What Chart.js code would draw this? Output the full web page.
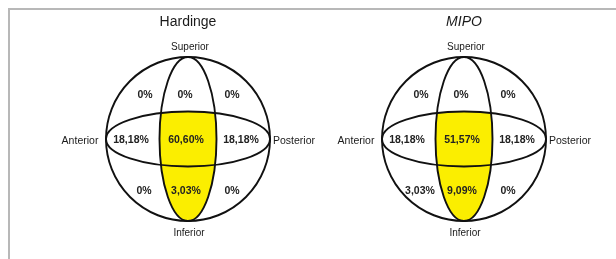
<!DOCTYPE html>
<html>
<head>
<meta charset="utf-8">
<script src="https://cdn.jsdelivr.net/npm/chart.js@4"></script>
<style>
  body { margin: 0; background: #fff; }
  canvas { display: block; }
</style>
</head>
<body>
<canvas id="sphereChart" width="616" height="259"></canvas>
<script>
// Data: share of fractures per sphere region (row-major, superior -> inferior)
const panels = ['Hardinge', 'MIPO'];
const hardingeValues = [0, 0, 0, 18.18, 60.60, 18.18, 0, 3.03, 0];
const mipoValues = [0, 0, 0, 18.18, 51.57, 18.18, 3.03, 9.09, 0];
const directions = ['Superior', 'Inferior', 'Anterior', 'Posterior'];

const fmtPct = v => v === 0 ? '0%' : v.toFixed(2).replace('.', ',') + '%';

// layout (in scale units, 1 unit = 1px)
const centersX = [188, 464];
const centerY = 139;
const R = 82;
const bandRy = 27.5;   // equator ellipse half height
const bandRx = 28.5;   // meridian ellipse half width
const colOff = [[-43, -3, 44], [-57, -2, 53], [-44, -2, 44]];
const rowOff = [-44, 1, 52];

const spherePlugin = {
    id: 'spheres',
    afterDraw(chart) {
        const ctx = chart.ctx;
        const xs = chart.scales.x, ys = chart.scales.y;
        const px = v => xs.getPixelForValue(v);
        const py = v => ys.getPixelForValue(v);
        const k = Math.abs(px(1) - px(0));

        // frame
        ctx.save();
        ctx.strokeStyle = '#b8b8b8';
        ctx.lineWidth = 2;
        ctx.beginPath();
        ctx.moveTo(px(9), py(259));
        ctx.lineTo(px(9), py(9));
        ctx.lineTo(px(616), py(9));
        ctx.stroke();
        ctx.restore();

        const allValues = [hardingeValues, mipoValues];
        panels.forEach((name, p) => {
            const cx = px(centersX[p]), cy = py(centerY);
            const r = R * k, ery = bandRy * k, mrx = bandRx * k;

            // yellow: meridian below top of equator band
            ctx.save();
            ctx.beginPath();
            ctx.ellipse(cx, cy, mrx, r, 0, 0, Math.PI * 2);
            ctx.clip();
            ctx.beginPath();
            ctx.ellipse(cx, cy, r, ery, 0, Math.PI, Math.PI * 2);
            ctx.lineTo(cx + r, cy + r + 4);
            ctx.lineTo(cx - r, cy + r + 4);
            ctx.closePath();
            ctx.fillStyle = '#fbee00';
            ctx.fill();
            ctx.restore();

            // outlines
            ctx.save();
            ctx.strokeStyle = '#111';
            ctx.lineWidth = 1.9;
            ctx.beginPath();
            ctx.arc(cx, cy, r, 0, Math.PI * 2);
            ctx.stroke();
            ctx.beginPath();
            ctx.ellipse(cx, cy, r, ery, 0, 0, Math.PI * 2);
            ctx.stroke();
            ctx.beginPath();
            ctx.ellipse(cx, cy, mrx, r, 0, 0, Math.PI * 2);
            ctx.stroke();
            ctx.restore();

            // texts
            ctx.save();
            ctx.textAlign = 'center';
            ctx.textBaseline = 'middle';
            ctx.fillStyle = '#1a1a1a';
            ctx.font = (p === 1 ? 'italic ' : '') + '14px "Liberation Sans", Arial, sans-serif';
            ctx.fillText(name, px(centersX[p]), py(22));

            ctx.font = '10px "Liberation Sans", Arial, sans-serif';
            ctx.fillText(directions[0], px(centersX[p] + 2), py(47));
            ctx.fillText(directions[1], px(centersX[p] + 1), py(233));
            ctx.font = '10.5px "Liberation Sans", Arial, sans-serif';
            ctx.fillText(directions[2], px(centersX[p] - 108), py(centerY + 2));
            ctx.fillText(directions[3], px(centersX[p] + 106), py(centerY + 2));

            ctx.font = 'bold 10.5px "Liberation Sans", Arial, sans-serif';
            ctx.fillStyle = '#222';
            allValues[p].forEach((v, i) => {
                const row = Math.floor(i / 3), col = i % 3;
                ctx.fillText(fmtPct(v), px(centersX[p] + colOff[row][col]), py(centerY + rowOff[row]));
            });
            ctx.restore();
        });
    }
};

new Chart(document.getElementById('sphereChart'), {
    type: 'scatter',
    data: { datasets: [] },
    options: {
        responsive: false,
        animation: false,
        devicePixelRatio: 1,
        layout: { padding: 0 },
        plugins: { legend: { display: false }, tooltip: { enabled: false } },
        scales: {
            x: { type: 'linear', min: 0, max: 616, display: false },
            y: { type: 'linear', min: 0, max: 259, reverse: true, display: false }
        }
    },
    plugins: [spherePlugin]
});
</script>
</body>
</html>
